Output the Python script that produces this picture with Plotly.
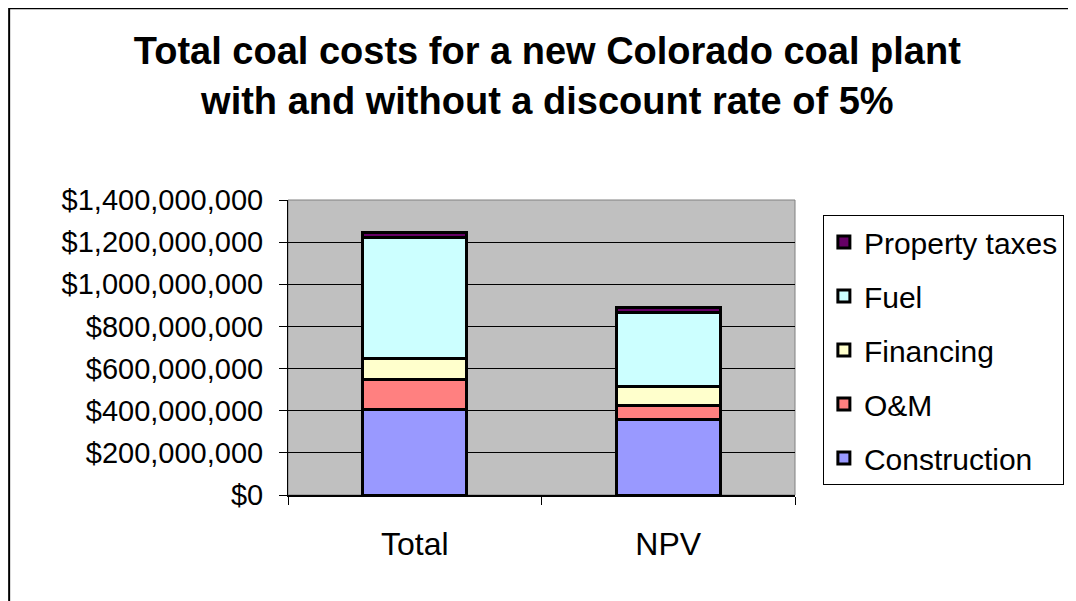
import plotly.graph_objects as go

# Categories and cost components
categories = ["Total", "NPV"]
construction = [408e6, 356e6]
om = [138e6, 71e6]
financing = [104e6, 86e6]
fuel = [570e6, 351e6]
property_taxes = [28e6, 28e6]

series = [
    ("Construction", construction, "#9999FF"),
    ("O&M", om, "#FF8080"),
    ("Financing", financing, "#FFFFCC"),
    ("Fuel", fuel, "#CCFFFF"),
    ("Property taxes", property_taxes, "#660066"),
]

FONT = "Liberation Sans, Arial, sans-serif"

fig = go.Figure()

# legend lists the top of the stack first
for i, (name, vals, color) in enumerate(series):
    fig.add_trace(go.Bar(
        name=name,
        x=categories,
        y=vals,
        legendgroup=name,
        legendrank=1000 - i,
        marker=dict(color=color, line=dict(color="black", width=3)),
    ))

# page has an 8px body margin, so the figure is sized/offset to compensate
fig.update_layout(
    width=1068,
    height=593,
    barmode="stack",
    bargap=0.59,
    title=dict(
        text="<b>Total coal costs for a new Colorado coal plant<br>with and without a discount rate of 5%</b>",
        x=0.505,
        xanchor="center",
        y=0.905,
        yanchor="middle",
        font=dict(family=FONT, size=38, color="black"),
    ),
    font=dict(family=FONT, color="black"),
    margin=dict(l=280, r=281, t=192, b=106),
    plot_bgcolor="#C0C0C0",
    paper_bgcolor="white",
    legend=dict(
        x=1.055,
        y=0.949,
        xanchor="left",
        yanchor="top",
        traceorder="grouped",
        tracegroupgap=12,
        bgcolor="white",
        bordercolor="black",
        borderwidth=1,
        font=dict(family=FONT, size=30, color="black"),
    ),
    yaxis=dict(
        range=[0, 1.4e9],
        dtick=2e8,
        tickprefix="$",
        tickformat=",.0f",
        showgrid=True,
        gridcolor="black",
        gridwidth=1,
        zeroline=False,
        showline=True,
        linecolor="black",
        linewidth=1,
        ticks="outside",
        ticklen=8,
        tickcolor="black",
        ticklabelstandoff=10,
        tickfont=dict(family=FONT, size=29, color="black"),
    ),
    xaxis=dict(
        showline=True,
        linecolor="black",
        linewidth=2,
        ticks="outside",
        tickson="boundaries",
        ticklen=8,
        tickcolor="black",
        ticklabelstandoff=20,
        showgrid=False,
        tickfont=dict(family=FONT, size=32, color="black"),
    ),
    shapes=[
        # gray plot-area border
        dict(type="rect", xref="paper", yref="paper", x0=0, x1=1, y0=0, y1=1,
             line=dict(color="#808080", width=1), layer="below"),
        # outer chart border
        dict(type="rect", xref="paper", yref="paper", x0=-0.55, x1=2.0, y0=-1.0, y1=1.65,
             line=dict(color="black", width=2)),
    ],
)

fig.write_html("out.html")
